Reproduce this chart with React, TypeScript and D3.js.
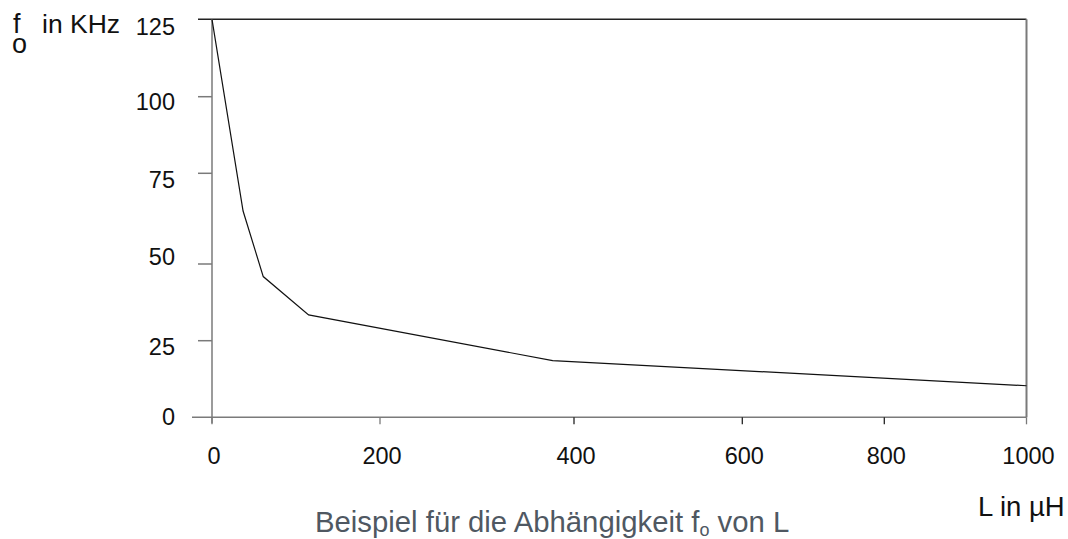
import * as d3 from "d3";
import { useEffect, useRef } from "react";

// inductance L in µH and resonant frequency f0 in kHz
const inductance = [0, 37, 61, 115, 378, 1000];
const frequency = [125, 64.6, 45.9, 33.4, 18.5, 10.3];

const xTicks = [0, 200, 400, 600, 800, 1000];
const yTicks = [0, 25, 50, 75, 100, 125];

const width = 1068;
const height = 539;

const App = () => {
  const ref = useRef<SVGSVGElement>(null);

  useEffect(() => {
    const svg = d3.select(ref.current);
    svg.selectAll("*").remove();

    // the original graph paper is not evenly spaced, so piecewise scales
    const x = d3
      .scaleLinear()
      .domain(xTicks)
      .range([212, 380, 574, 742.3, 884.3, 1026.5]);
    const y = d3
      .scaleLinear()
      .domain(yTicks)
      .range([417.3, 340.7, 264, 173.3, 96.7, 19.3]);
    const yLabel = d3
      .scaleLinear()
      .domain(yTicks)
      .range([416.7, 346.7, 256.7, 179, 101.7, 26.7]);

    const font = "'Liberation Sans', Arial, sans-serif";
    const axisColor = "#7a7a7a";

    // frame: top border and right border
    svg
      .append("line")
      .attr("x1", x(0) - 14)
      .attr("x2", x(1000))
      .attr("y1", y(125))
      .attr("y2", y(125))
      .attr("stroke", "#222")
      .attr("stroke-width", 1.5);
    svg
      .append("line")
      .attr("x1", x(1000))
      .attr("x2", x(1000))
      .attr("y1", y(125))
      .attr("y2", y(0))
      .attr("stroke", axisColor)
      .attr("stroke-width", 2);

    // axes
    svg
      .append("line")
      .attr("x1", x(0) - 20)
      .attr("x2", x(1000))
      .attr("y1", y(0))
      .attr("y2", y(0))
      .attr("stroke", axisColor)
      .attr("stroke-width", 1.5);
    svg
      .append("line")
      .attr("x1", x(0))
      .attr("x2", x(0))
      .attr("y1", y(125))
      .attr("y2", y(0) + 6)
      .attr("stroke", axisColor)
      .attr("stroke-width", 1.5);

    const yt = svg.append("g");
    yt.selectAll("line")
      .data(yTicks.filter((d) => d > 0 && d < 125))
      .join("line")
      .attr("x1", x(0) - 14)
      .attr("x2", x(0))
      .attr("y1", (d) => y(d))
      .attr("y2", (d) => y(d))
      .attr("stroke", axisColor)
      .attr("stroke-width", 1.5);
    yt.selectAll("text")
      .data(yTicks)
      .join("text")
      .attr("x", 175)
      .attr("y", (d) => yLabel(d) + 8.5)
      .attr("text-anchor", "end")
      .attr("font-family", font)
      .attr("font-size", 23.5)
      .attr("fill", "#111")
      .text((d) => d);

    const xt = svg.append("g");
    xt.selectAll("line")
      .data(xTicks)
      .join("line")
      .attr("x1", (d) => x(d))
      .attr("x2", (d) => x(d))
      .attr("y1", y(0))
      .attr("y2", y(0) + 7)
      .attr("stroke", (d) => (d === 0 || d === 200 || d === 1000 ? axisColor : "#222"))
      .attr("stroke-width", 1.3);
    xt.selectAll("text")
      .data(xTicks)
      .join("text")
      .attr("x", (d) => x(d) + 2)
      .attr("y", 463.5)
      .attr("text-anchor", "middle")
      .attr("font-family", font)
      .attr("font-size", 23.5)
      .attr("fill", "#111")
      .text((d) => d);

    // curve
    const points = inductance.map((l, i) => [l, frequency[i]] as [number, number]);
    const line = d3
      .line<[number, number]>()
      .x((d) => x(d[0]))
      .y((d) => y(d[1]));
    svg
      .append("path")
      .datum(points)
      .attr("fill", "none")
      .attr("stroke", "#111")
      .attr("stroke-width", 1.2)
      .attr("d", line);

    // axis titles
    svg
      .append("text")
      .attr("x", 13)
      .attr("y", 33)
      .attr("font-family", font)
      .attr("font-size", 27)
      .attr("fill", "#111")
      .text("f");
    svg
      .append("text")
      .attr("x", 12)
      .attr("y", 53)
      .attr("font-family", font)
      .attr("font-size", 27)
      .attr("fill", "#111")
      .text("o");
    svg
      .append("text")
      .attr("x", 42)
      .attr("y", 33)
      .attr("font-family", font)
      .attr("font-size", 26.5)
      .attr("fill", "#111")
      .text("in KHz");
    svg
      .append("text")
      .attr("x", 978)
      .attr("y", 516)
      .attr("font-family", font)
      .attr("font-size", 27.5)
      .attr("fill", "#111")
      .text("L in µH");

    // caption
    const cap = svg
      .append("text")
      .attr("x", 315)
      .attr("y", 532)
      .attr("font-family", font)
      .attr("font-size", 29.3)
      .attr("fill", "#4f5862");
    cap.append("tspan").text("Beispiel für die Abhängigkeit f");
    cap.append("tspan").attr("font-size", 18).attr("dy", 4).text("o");
    cap.append("tspan").attr("dy", -4).text(" von L");
  }, []);

  return (
    <div style={{ position: "absolute", left: 0, top: 0 }}>
      <svg ref={ref} width={width} height={height} style={{ display: "block", background: "#fff" }} />
    </div>
  );
};

export default App;
